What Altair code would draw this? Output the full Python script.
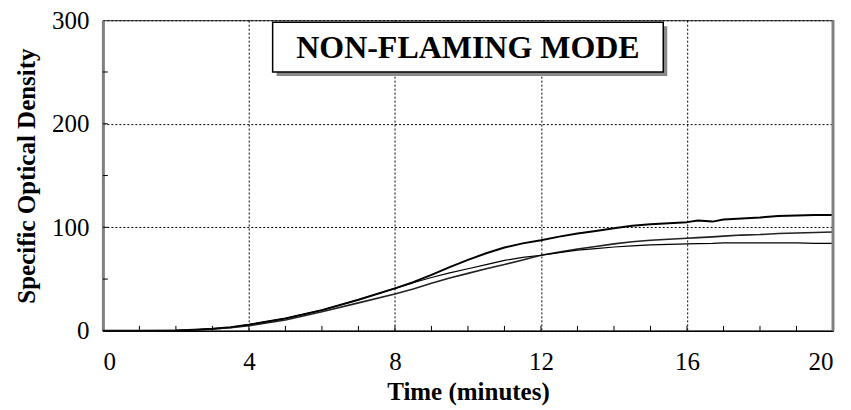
import altair as alt
import pandas as pd

# ---- data ----
time_min = [0, 1, 2, 2.5, 3, 3.5, 4, 5, 6, 7, 8, 8.5, 9, 9.5, 10, 10.5, 11, 11.5,
            12, 12.5, 13, 13.5, 14, 14.5, 15, 15.5, 16, 16.3, 16.7, 17, 17.5, 18,
            18.5, 19, 19.5, 20]
series_a = [0, 0, 0.3, 1, 2, 3.5, 6, 12, 20, 30, 41, 47, 54, 61.5, 68.5, 75, 80.5, 84.5,
            87.5, 91, 94, 96.5, 99, 101.5, 103, 104, 105, 106.5, 105.5, 107.5, 108.5, 109.5,
            111, 111.5, 112, 112]
series_b = [0, 0, 0.3, 0.8, 1.8, 3, 5, 10.5, 18.5, 27, 35.5, 40.5, 46, 51, 55.5, 60, 64, 68.5,
            73, 76, 79, 81.5, 84, 86, 87.5, 88.5, 89.5, 90, 90.8, 91.5, 92.5, 93,
            94, 94.5, 95, 95.5]
series_c = [0, 0, 0.3, 1, 2, 3.5, 6, 12, 20, 30, 41, 46.5, 51.5, 56, 60, 64, 68, 71,
            73, 75.5, 78, 79.5, 81, 82, 83, 83.5, 84, 84.2, 84.5, 85, 85, 85,
            85, 85, 84.5, 84.5]
series_names = ["A", "B", "C"]
series_widths = [2.0, 1.2, 2.6]
series_colors = ["#000000", "#222222", "#000000"]

x_labels = [0, 4, 8, 12, 16, 20]
y_labels = [0, 100, 200, 300]
x_minor = list(range(1, 20))
y_minor = [50, 100, 150, 200, 250]
title_text = "NON-FLAMING MODE"
box_x = [4.65, 15.35]
box_y = [250, 298]

rows = []
for name, vals in zip(series_names, [series_a, series_b, series_c]):
    for t, v in zip(time_min, vals):
        rows.append({"t": t, "v": v, "s": name})
df = pd.DataFrame(rows)

FONT = "Liberation Serif"
xs = alt.Scale(domain=[0, 20], nice=False, zero=False)
ys = alt.Scale(domain=[0, 300], nice=False)

W, H = 731, 311

lines = alt.Chart(df).mark_line(strokeJoin="round").encode(
    x=alt.X("t:Q", scale=xs,
            axis=alt.Axis(values=x_labels, title="Time (minutes)", grid=True,
                          gridDash=[2, 2], gridColor="#000", gridWidth=1, gridOpacity=1,
                          ticks=False, labelPadding=19, domainColor="#000", domainWidth=1.5,
                          labelFont=FONT, labelFontSize=25, labelColor="#000",
                          titleFont=FONT, titleFontSize=25, titleFontWeight="bold",
                          titleColor="#000", titlePadding=5)),
    y=alt.Y("v:Q", scale=ys,
            axis=alt.Axis(values=y_labels, title="Specific Optical Density", grid=True,
                          gridDash=[2, 2], gridColor="#000", gridWidth=1, gridOpacity=1,
                          ticks=False, labelPadding=14, labelOffset=0,
                          domainColor="#808080", domainWidth=3,
                          labelFont=FONT, labelFontSize=25, labelColor="#000",
                          titleFont=FONT, titleFontSize=25, titleFontWeight="bold",
                          titleColor="#000", titlePadding=12)),
    color=alt.Color("s:N", scale=alt.Scale(domain=series_names, range=series_colors), legend=None),
    strokeWidth=alt.StrokeWidth("s:N", scale=alt.Scale(domain=series_names, range=series_widths), legend=None),
    detail="s:N",
)

xt = pd.DataFrame({"t": x_minor})
yt = pd.DataFrame({"v": y_minor})
xticks = alt.Chart(xt).mark_rule(color="#000", strokeWidth=1).encode(
    x=alt.X("t:Q", scale=xs), y=alt.value(H), y2=alt.value(H - 5))
yticks = alt.Chart(yt).mark_rule(color="#000", strokeWidth=1).encode(
    y=alt.Y("v:Q", scale=ys), x=alt.value(0), x2=alt.value(5))
right_edge = alt.Chart(pd.DataFrame({"t": [20]})).mark_rule(color="#808080", strokeWidth=3).encode(
    x=alt.X("t:Q", scale=xs), y=alt.value(0), y2=alt.value(H))

box_df = pd.DataFrame({"x1": [box_x[0]], "x2": [box_x[1]], "y1": [box_y[0]], "y2": [box_y[1]],
                       "label": [title_text]})
shadow = alt.Chart(box_df).mark_rect(color="#8a8a8a", xOffset=4, x2Offset=4, yOffset=4, y2Offset=4).encode(
    x=alt.X("x1:Q", scale=xs), x2="x2:Q", y=alt.Y("y1:Q", scale=ys), y2="y2:Q")
box = alt.Chart(box_df).mark_rect(fill="white", stroke="#000", strokeWidth=1.5).encode(
    x=alt.X("x1:Q", scale=xs), x2="x2:Q", y=alt.Y("y1:Q", scale=ys), y2="y2:Q")
label = alt.Chart(box_df).mark_text(font=FONT, fontSize=32, fontWeight="bold", color="#000",
                                    baseline="middle", align="center", dy=1).encode(
    x=alt.datum((box_x[0] + box_x[1]) / 2, scale=xs),
    y=alt.datum((box_y[0] + box_y[1]) / 2, scale=ys),
    text="label:N")

chart = alt.layer(lines, xticks, yticks, right_edge, shadow, box, label).properties(
    width=W, height=H,
    autosize=alt.AutoSizeParams(type="none"),
    padding={"left": 95, "top": 12, "right": 10, "bottom": 79},
    background="white",
).configure_view(stroke="#333", strokeWidth=1)

chart.save("out.html", embed_options={"renderer": "svg", "actions": False})
